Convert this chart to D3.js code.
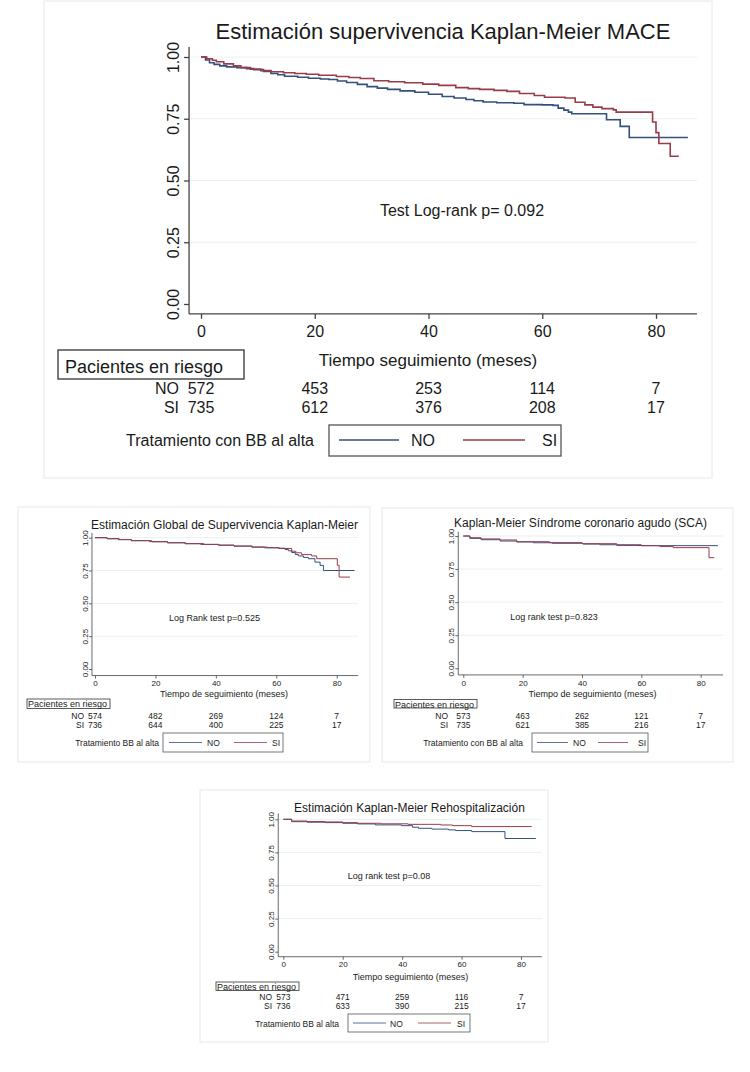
<!DOCTYPE html>
<html>
<head>
<meta charset="utf-8">
<script src="https://cdn.jsdelivr.net/npm/d3@7"></script>
<style>
  body { margin: 0; background: #fff; }
  text { font-family: "Liberation Sans", Arial, sans-serif; fill: #1a1a1a; }
</style>
</head>
<body>
<svg id="chart" width="750" height="1072"></svg>
<script>
const monthTicks = [0, 20, 40, 60, 80];
const survTicks = [0, 0.25, 0.5, 0.75, 1];
const groups = ["NO", "SI"];
const colorNO = "#34507c";
const colorSI = "#983c4a";

// MACE (big chart)
const maceTimeNO = [0, 0.8, 1.5, 2.3, 3.3, 4.5, 6.3, 8, 9.3, 11, 12.3, 13.5, 14.7, 17, 18.9, 21, 22.5, 24, 25.6, 27.5, 29.2, 31, 32.8, 35, 37.6, 40, 42.4, 44.5, 46.6, 48, 49.6, 52, 55, 56.8, 60, 61.9, 62.8, 63.8, 64.6, 65.2, 71.3, 73.7, 75.3, 85.6];
const maceSurvNO = [1, 0.988, 0.977, 0.97, 0.964, 0.96, 0.957, 0.953, 0.949, 0.942, 0.933, 0.928, 0.922, 0.918, 0.914, 0.911, 0.909, 0.903, 0.897, 0.889, 0.88, 0.874, 0.869, 0.863, 0.857, 0.849, 0.84, 0.834, 0.828, 0.823, 0.818, 0.815, 0.813, 0.807, 0.806, 0.804, 0.793, 0.785, 0.777, 0.77, 0.746, 0.719, 0.674, 0.674];
const maceTimeSI = [0, 1, 2, 2.7, 4, 5.7, 7, 8.7, 10.5, 12.3, 14.5, 16.5, 18.5, 20.7, 23.8, 26, 28, 30.4, 33, 35.8, 39, 41.8, 44.8, 47, 49, 51.5, 53.8, 56, 58.6, 60.4, 64, 65.8, 67.5, 68.9, 70.5, 72.5, 73, 79.4, 80, 80.5, 82.5, 84];
const maceSurvSI = [1, 0.993, 0.987, 0.981, 0.972, 0.964, 0.957, 0.951, 0.945, 0.94, 0.936, 0.933, 0.93, 0.926, 0.921, 0.917, 0.913, 0.904, 0.9, 0.896, 0.89, 0.885, 0.876, 0.872, 0.869, 0.865, 0.861, 0.852, 0.844, 0.837, 0.834, 0.817, 0.806, 0.797, 0.791, 0.786, 0.777, 0.737, 0.694, 0.65, 0.598, 0.598];
const maceRiskNO = [572, 453, 253, 114, 7];
const maceRiskSI = [735, 612, 376, 208, 17];

// Global
const globTimeNO = [0, 4, 7.7, 12, 18.8, 24, 29.8, 35, 40.8, 46, 51.9, 56, 60.7, 62.9, 64, 65.1, 66.3, 67.3, 69, 70.6, 72.8, 74.5, 75.6, 85.9];
const globSurvNO = [1, 0.992, 0.985, 0.977, 0.969, 0.961, 0.954, 0.949, 0.943, 0.936, 0.928, 0.923, 0.918, 0.91, 0.9, 0.887, 0.872, 0.861, 0.85, 0.84, 0.814, 0.789, 0.75, 0.75];
const globTimeSI = [0, 4, 8, 12, 18, 24, 30, 36, 41, 46, 52, 57, 61, 62.9, 65.1, 66.5, 68.4, 71.7, 73.4, 80.2, 80.8, 84.4];
const globSurvSI = [1, 0.993, 0.986, 0.978, 0.97, 0.962, 0.955, 0.949, 0.943, 0.936, 0.929, 0.924, 0.92, 0.918, 0.897, 0.885, 0.871, 0.861, 0.84, 0.79, 0.7, 0.7];
const globRiskNO = [574, 482, 269, 124, 7];
const globRiskSI = [736, 644, 400, 225, 17];

// SCA
const scaTimeNO = [0, 2.2, 6, 12.4, 18, 23.6, 30, 40.4, 46, 51.7, 58, 65.2, 85.8];
const scaSurvNO = [1, 0.982, 0.972, 0.962, 0.955, 0.949, 0.945, 0.939, 0.934, 0.929, 0.928, 0.927, 0.927];
const scaTimeSI = [0, 2.2, 6, 12.4, 18, 29, 40, 51.7, 60, 66.3, 70.8, 82.8, 84.6];
const scaSurvSI = [1, 0.987, 0.978, 0.97, 0.957, 0.95, 0.942, 0.934, 0.926, 0.92, 0.912, 0.836, 0.836];
const scaRiskNO = [573, 463, 262, 121, 7];
const scaRiskSI = [735, 621, 385, 216, 17];

// Rehospitalizacion
const rehTimeNO = [0, 2.8, 8, 14, 20, 25, 31, 39.8, 43.5, 45.5, 50, 55.6, 58, 63.4, 74.6, 85];
const rehSurvNO = [1, 0.982, 0.978, 0.975, 0.97, 0.965, 0.958, 0.952, 0.94, 0.932, 0.926, 0.92, 0.915, 0.907, 0.855, 0.855];
const rehTimeSI = [0, 2.8, 8, 14, 20, 25, 33, 42, 53, 57, 63.4, 83.6];
const rehSurvSI = [1, 0.987, 0.983, 0.98, 0.975, 0.97, 0.966, 0.962, 0.957, 0.952, 0.945, 0.945];
const rehRiskNO = [573, 471, 259, 116, 7];
const rehRiskSI = [736, 633, 390, 215, 17];

const svg = d3.select("#chart");

function drawPanel(p) {
  const g = svg.append("g");
  g.append("rect")
    .attr("x", p.box[0]).attr("y", p.box[1])
    .attr("width", p.box[2] - p.box[0]).attr("height", p.box[3] - p.box[1])
    .attr("fill", "#fff").attr("stroke", "#e6e8ea");

  const x = d3.scaleLinear().domain([0, 80]).range(p.xr);
  const y = d3.scaleLinear().domain([0, 1]).range(p.yr);

  // grid
  g.selectAll(".grid").data(survTicks.filter(d => d > 0)).enter().append("line")
    .attr("x1", x(p.xext[0])).attr("x2", x(p.xext[1]))
    .attr("y1", d => y(d)).attr("y2", d => y(d))
    .attr("stroke", "#eaeff1").attr("stroke-width", 1);

  // y axis
  const ya = g.append("g").attr("transform", `translate(${x(p.xext[0])},0)`)
    .call(d3.axisLeft(y).tickValues(survTicks).tickFormat(d3.format(".2f")).tickSize(p.tick).tickSizeOuter(0));
  ya.attr("font-family", null).attr("font-size", null);
  ya.select(".domain").remove();
  ya.append("line").attr("y1", y(p.yext[0])).attr("y2", y(p.yext[1])).attr("stroke", "#444").attr("stroke-width", p.axw);
  ya.selectAll(".tick line").attr("stroke", "#444").attr("stroke-width", p.axw);
  ya.selectAll(".tick text")
    .attr("transform", "rotate(-90)").attr("x", 0).attr("y", -p.ylabOff).attr("dy", 0)
    .attr("text-anchor", "middle").style("font-size", p.tickFs + "px").attr("fill", "#1a1a1a");

  // x axis
  const xa = g.append("g").attr("transform", `translate(0,${y(p.yext[0])})`)
    .call(d3.axisBottom(x).tickValues(monthTicks).tickFormat(d3.format("d")).tickSize(p.tick).tickSizeOuter(0));
  xa.attr("font-family", null).attr("font-size", null);
  xa.select(".domain").remove();
  xa.append("line").attr("x1", x(p.xext[0])).attr("x2", x(p.xext[1])).attr("stroke", "#444").attr("stroke-width", p.axw);
  xa.selectAll(".tick line").attr("stroke", "#444").attr("stroke-width", p.axw);
  xa.selectAll(".tick text").attr("y", p.xlabOff).style("font-size", p.tickFs + "px").attr("fill", "#1a1a1a");

  // curves
  const line = d3.line().x(d => x(d[0])).y(d => y(d[1])).curve(d3.curveStepAfter);
  p.series.forEach(s => {
    g.append("path").datum(d3.zip(s.t, s.s)).attr("d", line)
      .attr("fill", "none").attr("stroke", s.color).attr("stroke-width", p.lw);
  });

  // titles
  g.append("text").attr("x", p.title[0]).attr("y", p.title[1]).attr("text-anchor", "middle")
    .style("font-size", p.titleFs + "px").text(p.title[2]);
  g.append("text").attr("x", p.xtitle[0]).attr("y", p.xtitle[1]).attr("text-anchor", "middle")
    .style("font-size", p.xtitleFs + "px").text(p.xtitle[2]);
  g.append("text").attr("x", p.pval[0]).attr("y", p.pval[1]).attr("text-anchor", "middle")
    .style("font-size", p.pvalFs + "px").text(p.pval[2]);

  // risk table
  const rb = p.riskBox;
  g.append("rect").attr("x", rb[0]).attr("y", rb[1]).attr("width", rb[2] - rb[0]).attr("height", rb[3] - rb[1])
    .attr("fill", "none").attr("stroke", "#333").attr("stroke-width", p.axw);
  g.append("text").attr("x", p.riskTitle[0]).attr("y", p.riskTitle[1])
    .style("font-size", p.riskTitleFs + "px").text("Pacientes en riesgo");
  groups.forEach((grp, i) => {
    const yy = p.riskY[i];
    g.append("text").attr("x", p.riskLabX).attr("y", yy).attr("text-anchor", "end")
      .style("font-size", p.riskFs + "px").text(grp);
    g.selectAll(null).data(p.risk[i]).enter().append("text")
      .attr("x", (d, j) => x(monthTicks[j])).attr("y", yy).attr("text-anchor", "middle")
      .style("font-size", p.riskFs + "px").text(d => d);
  });

  // legend
  const lb = p.legBox;
  g.append("text").attr("x", p.legTitle[0]).attr("y", p.legTitle[1]).attr("text-anchor", "end")
    .style("font-size", p.legFs + "px").text(p.legTitle[2]);
  g.append("rect").attr("x", lb[0]).attr("y", lb[1]).attr("width", lb[2] - lb[0]).attr("height", lb[3] - lb[1])
    .attr("fill", "none").attr("stroke", "#555").attr("stroke-width", p.axw);
  groups.forEach((grp, i) => {
    g.append("line").attr("x1", p.legLines[i][0]).attr("x2", p.legLines[i][1])
      .attr("y1", p.legLineY).attr("y2", p.legLineY)
      .attr("stroke", p.series[i].color).attr("stroke-width", p.lw * 0.8);
    g.append("text").attr("x", p.legTextX[i]).attr("y", p.legTitle[1])
      .style("font-size", p.legFs + "px").text(grp);
  });
}

drawPanel({
  box: [44, 1, 712, 478], xr: [201, 656], yr: [304, 57],
  xext: [-2.1, 87.2], yext: [-0.04, 1.04],
  tick: 5, axw: 1.3, tickFs: 16, ylabOff: 10, xlabOff: 12, lw: 1.6,
  title: [443, 39, "Estimación supervivencia Kaplan-Meier MACE"], titleFs: 22,
  xtitle: [428, 366, "Tiempo seguimiento (meses)"], xtitleFs: 17,
  pval: [462, 216, "Test Log-rank p= 0.092"], pvalFs: 16,
  riskBox: [58, 350, 244, 379], riskTitle: [65, 373], riskTitleFs: 18,
  riskY: [394, 413], riskLabX: 179, riskFs: 16, risk: [maceRiskNO, maceRiskSI],
  legTitle: [314, 446, "Tratamiento con BB al alta"], legFs: 16,
  legBox: [329, 425, 561, 456], legLines: [[339, 399], [463, 525]], legLineY: 440, legTextX: [411, 542],
  series: [{t: maceTimeNO, s: maceSurvNO, color: colorNO}, {t: maceTimeSI, s: maceSurvSI, color: colorSI}]
});

drawPanel({
  box: [18, 507, 370, 762], xr: [95, 336.7], yr: [669, 537.7],
  xext: [-1.0, 87.1], yext: [-0.05, 1.036],
  tick: 3, axw: 0.8, tickFs: 8, ylabOff: 4, xlabOff: 5, lw: 1,
  title: [224.5, 529, "Estimación Global de Supervivencia Kaplan-Meier"], titleFs: 12,
  xtitle: [224, 697, "Tiempo de seguimiento (meses)"], xtitleFs: 9,
  pval: [214.5, 621, "Log Rank test p=0.525"], pvalFs: 9,
  riskBox: [27, 699, 110, 708.5], riskTitle: [28, 707], riskTitleFs: 9,
  riskY: [718.5, 728], riskLabX: 84, riskFs: 8.5, risk: [globRiskNO, globRiskSI],
  legTitle: [159, 746, "Tratamiento BB al alta"], legFs: 8.5,
  legBox: [163, 733, 283, 752], legLines: [[169, 202], [234, 267]], legLineY: 742.5, legTextX: [207, 272],
  series: [{t: globTimeNO, s: globSurvNO, color: colorNO}, {t: globTimeSI, s: globSurvSI, color: colorSI}]
});

drawPanel({
  box: [382, 508, 733, 762], xr: [463.3, 700.7], yr: [668.3, 536],
  xext: [-1.7, 87.5], yext: [-0.05, 1.032],
  tick: 3, axw: 0.8, tickFs: 8, ylabOff: 4, xlabOff: 5, lw: 1,
  title: [580.5, 527, "Kaplan-Meier Síndrome coronario agudo (SCA)"], titleFs: 12,
  xtitle: [592.5, 697, "Tiempo de seguimiento (meses)"], xtitleFs: 9,
  pval: [554, 620, "Log rank test p=0.823"], pvalFs: 9,
  riskBox: [394, 699.5, 477, 708], riskTitle: [395, 707.5], riskTitleFs: 9,
  riskY: [719, 728], riskLabX: 448, riskFs: 8.5, risk: [scaRiskNO, scaRiskSI],
  legTitle: [523, 746, "Tratamiento con BB al alta"], legFs: 8.5,
  legBox: [532, 733, 648, 752], legLines: [[537, 568], [598, 628]], legLineY: 742.5, legTextX: [573, 638],
  series: [{t: scaTimeNO, s: scaSurvNO, color: colorNO}, {t: scaTimeSI, s: scaSurvSI, color: colorSI}]
});

drawPanel({
  box: [200, 790, 548, 1042], xr: [283.3, 521], yr: [951.7, 819.3],
  xext: [-1.7, 87.0], yext: [-0.038, 1.044],
  tick: 3, axw: 0.8, tickFs: 8, ylabOff: 4, xlabOff: 5, lw: 1,
  title: [409.5, 812, "Estimación Kaplan-Meier Rehospitalización"], titleFs: 12,
  xtitle: [410.5, 980, "Tiempo seguimiento (meses)"], xtitleFs: 9,
  pval: [389, 879, "Log rank test p=0.08"], pvalFs: 9,
  riskBox: [216, 982, 299, 990.5], riskTitle: [217, 989.5], riskTitleFs: 9,
  riskY: [1000, 1009], riskLabX: 272, riskFs: 8.5, risk: [rehRiskNO, rehRiskSI],
  legTitle: [339, 1027, "Tratamiento BB al alta"], legFs: 8.5,
  legBox: [348, 1014, 470, 1032], legLines: [[353, 386], [418, 451]], legLineY: 1023, legTextX: [390, 457],
  series: [{t: rehTimeNO, s: rehSurvNO, color: colorNO}, {t: rehTimeSI, s: rehSurvSI, color: colorSI}]
});
</script>
</body>
</html>
